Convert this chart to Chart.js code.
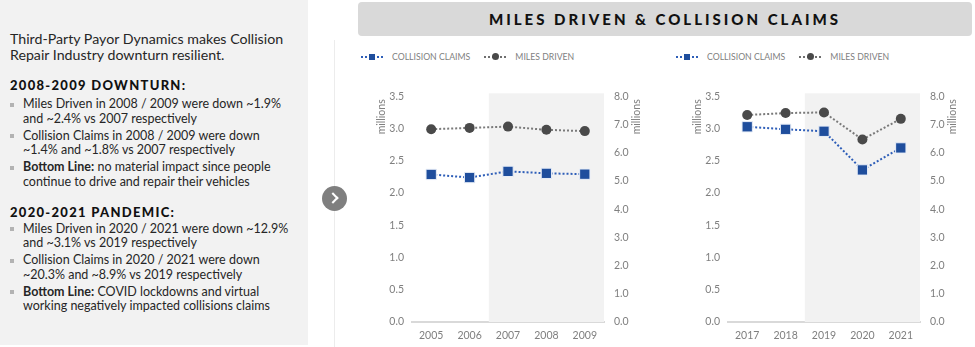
<!DOCTYPE html>
<html>
<head>
<meta charset="utf-8">
<script src="https://cdn.jsdelivr.net/npm/chart.js@4"></script>
<style>
    body { margin: 0; width: 975px; height: 347px; background: #fff; position: relative; overflow: hidden; font-family: Lato, sans-serif; }
    #panel { position: absolute; left: 0; top: 0; width: 308px; height: 345px; background: #f2f2f2; color: #262626; }
    .blk { position: absolute; left: 10px; white-space: nowrap; }
    .intro { top: 31px; font-size: 14.2px; line-height: 16px; }
    .head { font-size: 13px; font-weight: 900; letter-spacing: 1.3px; line-height: 16px; color: #111; }
    ul { position: absolute; left: 0; margin: 0; padding: 0; list-style: none; font-size: 12.5px; line-height: 14.5px; white-space: nowrap; }
    li { position: relative; padding-left: 23px; margin-bottom: 2.7px; }
    li:before { content: ''; position: absolute; left: 10px; top: 5.5px; width: 4px; height: 4px; background: #b3b3b3; }
    #divider { position: absolute; left: 334px; top: 40px; width: 1px; height: 307px; background: #ececec; }
    #arrow { position: absolute; left: 322px; top: 186px; width: 25px; height: 25px; border-radius: 50%; background: #7f7f7f; }
    #arrow:after { content: ''; position: absolute; left: 7px; top: 8px; width: 6px; height: 6px; border-right: 2.6px solid #fff; border-top: 2.6px solid #fff; transform: rotate(45deg); }
    #banner { position: absolute; left: 358px; top: 2px; width: 614px; height: 34px; background: #d9d9d9; border-radius: 4px; text-align: center; line-height: 34px; font-size: 15px; font-weight: 900; letter-spacing: 3px; color: #111; }
    .legend { position: absolute; top: 49px; font-size: 8.7px; color: #7f7f7f; white-space: nowrap; height: 14px; line-height: 14px; }
    .legend span { display: inline-block; vertical-align: middle; }
    .mk { position: relative; width: 22px; height: 10px; margin-right: 9px; }
    .mk:before { content: ''; position: absolute; left: 0; right: 0; top: 4px; border-top: 2px dotted; }
    .mk i { position: absolute; left: 8px; top: 2px; width: 6px; height: 6px; }
    .gap { width: 14px; }
    .box { position: absolute; top: 80px; width: 300px; height: 267px; }
</style>
</head>
<body>
<div id="panel">
    <div class="blk intro">Third-Party Payor Dynamics makes Collision<br>Repair Industry downturn resilient.</div>
    <div class="blk head" style="top:77px">2008-2009 DOWNTURN:</div>
    <ul style="top:97px">
        <li>Miles Driven in 2008 / 2009 were down ~1.9%<br>and ~2.4% vs 2007 respectively</li>
        <li>Collision Claims in 2008 / 2009 were down<br>~1.4% and ~1.8% vs 2007 respectively</li>
        <li><b>Bottom Line:</b> no material impact since people<br>continue to drive and repair their vehicles</li>
    </ul>
    <div class="blk head" style="top:204px">2020-2021 PANDEMIC:</div>
    <ul style="top:221.5px">
        <li>Miles Driven in 2020 / 2021 were down ~12.9%<br>and ~3.1% vs 2019 respectively</li>
        <li>Collision Claims in 2020 / 2021 were down<br>~20.3% and ~8.9% vs 2019 respectively</li>
        <li><b>Bottom Line:</b> COVID lockdowns and virtual<br>working negatively impacted collisions claims</li>
    </ul>
</div>
<div id="divider"></div>
<div id="arrow"></div>
<div id="banner">MILES DRIVEN &amp; COLLISION CLAIMS</div>

<div class="legend" style="left:361px">
    <span class="mk" style="color:#2e5eb8"><i style="background:#1f4e9d"></i></span><span>COLLISION CLAIMS</span><span class="gap"></span><span class="mk" style="color:#6f6f6f"><i style="background:#4a4a4a;border-radius:50%;width:7px;height:7px;top:1.5px;left:7.5px"></i></span><span>MILES DRIVEN</span>
</div>
<div class="legend" style="left:676px">
    <span class="mk" style="color:#2e5eb8"><i style="background:#1f4e9d"></i></span><span>COLLISION CLAIMS</span><span class="gap"></span><span class="mk" style="color:#6f6f6f"><i style="background:#4a4a4a;border-radius:50%;width:7px;height:7px;top:1.5px;left:7.5px"></i></span><span>MILES DRIVEN</span>
</div>

<div class="box" style="left:360px"><canvas id="chart0"></canvas></div>
<div class="box" style="left:676px"><canvas id="chart1"></canvas></div>

<script>
// data
const years2005 = ['2005', '2006', '2007', '2008', '2009'];
const miles2005 = [2.99, 3.01, 3.03, 2.98, 2.96];
const claims2005 = [5.23, 5.12, 5.34, 5.27, 5.24];

const years2017 = ['2017', '2018', '2019', '2020', '2021'];
const miles2017 = [3.21, 3.24, 3.25, 2.83, 3.15];
const claims2017 = [6.92, 6.83, 6.76, 5.39, 6.17];

const leftAxis = { max: 3.5, step: 0.5 };
const rightAxis = { max: 8, step: 1 };
// shading starts between these two categories
const shadeAfter = [1, 1];

const tickFont = { family: 'Lato', size: 10.5 };
const tickColor = '#7f7f7f';

// grey band behind the later years
const shadePlugin = {
    id: 'shade',
    beforeDatasetsDraw(chart) {
        const x = chart.scales.x;
        const area = chart.chartArea;
        const i = chart.options.plugins.shade.after;
        const left = (x.getPixelForValue(i) + x.getPixelForValue(i + 1)) / 2;
        const ctx = chart.ctx;
        ctx.save();
        ctx.fillStyle = '#f2f2f2';
        ctx.fillRect(left, area.top - 3, area.right - left, area.bottom - area.top + 3);
        ctx.restore();
    }
};

// "millions" axis titles, both reading upward
const unitsPlugin = {
    id: 'units',
    afterDraw(chart) {
        const area = chart.chartArea;
        const ctx = chart.ctx;
        ctx.save();
        ctx.fillStyle = tickColor;
        ctx.font = '10.5px Lato';
        ctx.textAlign = 'right';
        ctx.textBaseline = 'middle';
        [area.left - 30, area.right + 33].forEach(function (x) {
            ctx.save();
            ctx.translate(x, area.top + 3);
            ctx.rotate(-Math.PI / 2);
            ctx.fillText('millions', 0, 0);
            ctx.restore();
        });
        ctx.restore();
    }
};

function drawChart(index, labels, miles, claims) {
    const ctx = document.getElementById('chart' + index);

    new Chart(ctx, {
        type: 'line',
        data: {
            labels: labels,
            datasets: [
                {
                    label: 'COLLISION CLAIMS',
                    data: claims,
                    yAxisID: 'y1',
                    borderColor: '#2e5eb8',
                    borderWidth: 2,
                    borderDash: [2, 2],
                    pointStyle: 'rect',
                    pointRadius: 7.3,
                    pointBackgroundColor: '#1f4e9d',
                    pointBorderColor: '#e8eef8',
                    pointBorderWidth: 1
                },
                {
                    label: 'MILES DRIVEN',
                    data: miles,
                    yAxisID: 'y',
                    borderColor: '#7a7a7a',
                    borderWidth: 2,
                    borderDash: [2, 2],
                    pointStyle: 'circle',
                    pointRadius: 5,
                    pointBackgroundColor: '#4a4a4a',
                    pointBorderColor: '#4a4a4a',
                    pointBorderWidth: 0
                }
            ]
        },
        options: {
            responsive: true,
            maintainAspectRatio: false,
            animation: false,
            layout: { padding: { top: 13, left: 0, right: 0, bottom: 0 } },
            plugins: {
                legend: { display: false },
                tooltip: { enabled: false },
                shade: { after: shadeAfter[index] }
            },
            scales: {
                x: {
                    offset: true,
                    grid: { display: false, drawTicks: false },
                    border: { display: true, color: '#d9d9d9', width: 2 },
                    ticks: { color: tickColor, font: tickFont, padding: 7, maxRotation: 0 },
                    afterFit: function (scale) { scale.height = 25; }
                },
                y: {
                    position: 'left',
                    min: 0,
                    max: leftAxis.max,
                    grid: { display: false, drawTicks: false },
                    border: { display: false },
                    ticks: {
                        stepSize: leftAxis.step,
                        color: tickColor,
                        font: tickFont,
                        padding: 8,
                        callback: function (v) { return v.toFixed(1); }
                    },
                    afterFit: function (scale) { scale.width = 52; }
                },
                y1: {
                    position: 'right',
                    min: 0,
                    max: rightAxis.max,
                    grid: { display: false, drawTicks: false },
                    border: { display: false },
                    ticks: {
                        stepSize: rightAxis.step,
                        color: tickColor,
                        font: tickFont,
                        padding: 10,
                        callback: function (v) { return v.toFixed(1); }
                    },
                    afterFit: function (scale) { scale.width = 56; }
                }
            }
        },
        plugins: [shadePlugin, unitsPlugin]
    });
}

drawChart(0, years2005, miles2005, claims2005);
drawChart(1, years2017, miles2017, claims2017);
</script>
</body>
</html>
